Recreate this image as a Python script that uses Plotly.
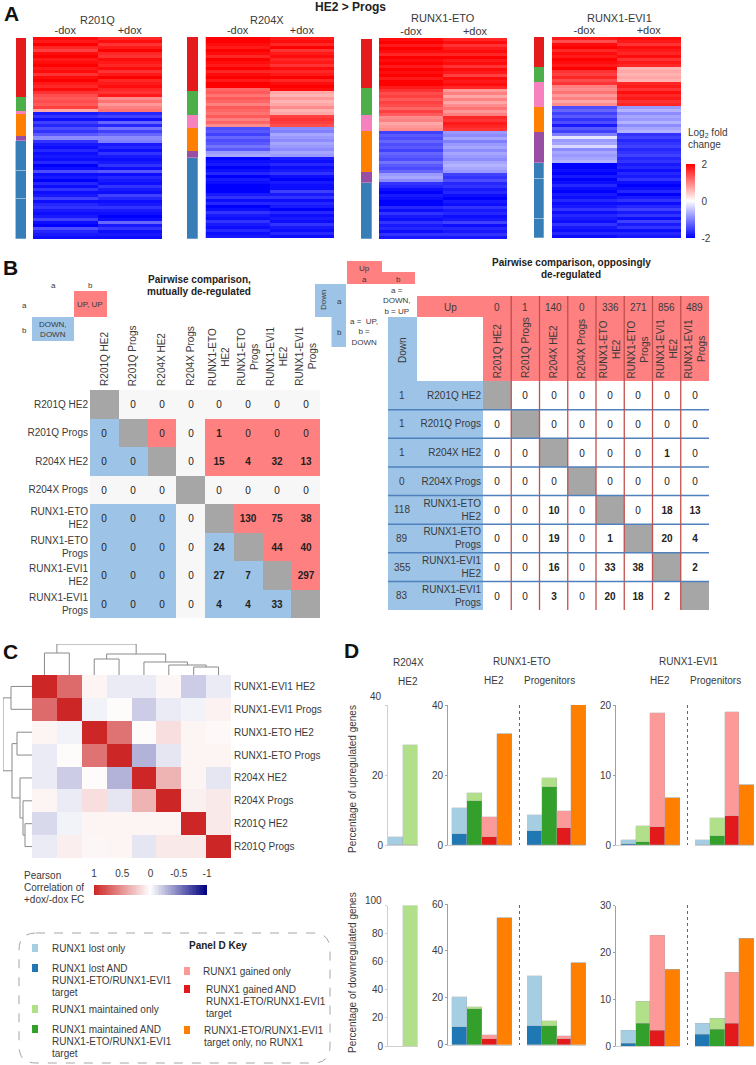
import numpy as np
import plotly.graph_objects as go

W, H = 756, 1065
FONT = "Liberation Sans"
TXT = "#3a3a3a"

# ---------- Panel A data ----------
R201Q_minus = [1.9,1.8,2,1.7,1.5,1.9,2,1.8,1.9,2,
 1.8,1.9,1.6,1.9,2,1.8,1.7,1.9,1.6,1.4,
 1.3,1.4,1.3,1.5,0.7,-1.8,-1.6,-1.9,-1.5,-1.7,
 -1.4,-1.6,-1.3,-0.9,-1.6,-1.8,-1.9,-1.7,-1.9,-1.8,
 -1.9,-1.7,-2,-1.9,-1.4,-1.9,-1.8,-2,-1.7,-1.9,
 -1.6,-1.9,-1.8,-1.5,-1.9,-1.7,-1.6,-1.8,-1.9,-1.8,
 -1.5,-1.9,-2,-1.4,-1.7,-1.8,-1.9]
R201Q_plus = [1.7,1.9,1.6,1.8,2,1.7,1.6,1.9,1.8,1.7,
 1.9,1.6,1.8,2,1.7,1.8,1.9,1.7,1.6,1.8,
 0.9,1.1,0.8,1.0,1.1,-1.7,-1.5,-1.9,-1.2,-1.7,
 -1.1,-1.5,-1.2,-0.9,-1.0,-1.8,-1.7,-1.9,-1.6,-1.8,
 -1.9,-1.8,-1.6,-1.9,-1.3,-1.9,-1.7,-1.8,-1.9,-1.6,
 -1.8,-1.9,-1.5,-1.7,-1.9,-1.8,-1.6,-1.8,-1.9,-2,
 -1.9,-1.2,-1.8,-1.6,-1.9,-1.8,-1.9]
R204X_minus = [2,2,1.9,1.8,2,1.9,1.7,2,1.9,1.8,
 2,1.7,1.9,2,1.8,2,2,1.2,1.3,1.1,
 1.3,1.2,1.0,1.3,1.2,1.1,1.3,1.0,1.2,0.9,
 -1.4,-1.3,-1.5,-1.2,-1.4,-1.3,-1.1,-1.3,-0.8,-0.7,
 -2,-1.9,-1.8,-2,-1.9,-1.7,-2,-1.8,-1.9,-2,
 -2,-2,-1.8,-1.6,-1.9,-1.7,-2,-1.9,-1.6,-1.8,
 -1.9,-1.6,-1.8,-1.9,-1.7,-1.9,-1.8]
R204X_plus = [1.8,1.9,1.7,2,1.6,1.8,1.9,1.7,1.8,1.6,
 1.9,1.7,1.8,2,1.7,1.9,2,1.9,0.7,0.6,
 0.8,0.6,0.7,0.9,0.6,0.7,1.5,1.6,1.5,1.4,
 -0.9,-1.0,-0.7,-0.8,-0.9,-0.7,-0.8,-0.9,-0.7,-0.8,
 -1.8,-1.9,-1.7,-1.9,-1.8,-1.6,-1.9,-2,-1.8,-1.9,
 -1.9,-1.5,-1.8,-1.6,-1.9,-1.7,-1.8,-2,-1.7,-1.9,
 -1.8,-1.9,-1.6,-1.8,-1.9,-1.7,-1.9]
ETO_minus = [1.9,2,1.8,2,1.9,1.7,2,1.9,2,1.8,
 2,1.9,2,1.8,2,2,1.8,1.6,1.4,1.5,
 1.3,1.5,1.4,1.2,1.5,1.3,0.9,1.0,0.7,0.8,
 0.9,-1.5,-1.3,-1.4,-1.2,-1.4,-1.3,-1.5,-1.2,-1.3,
 -1.4,-1.1,-1.3,-1.4,-1.2,-0.8,-0.7,-0.9,-1.6,-1.7,
 -1.9,-2,-1.8,-1.9,-2,-2,-1.7,-1.9,-1.6,-1.8,
 -1.9,-1.6,-1.8,-1.7,-1.9,-1.6,-1.8]
ETO_plus = [1.7,1.9,1.6,1.8,1.9,1.7,2,1.8,1.9,1.6,
 1.9,1.8,1.5,1.9,1.8,1.9,1.7,0.8,1.0,0.7,
 1.0,0.7,0.9,1.1,0.8,1.0,1.7,1.6,1.8,1.7,
 1.6,-0.8,-0.9,-0.7,-1.0,-0.8,-0.7,-0.9,-0.7,-0.8,
 -0.9,-0.7,-0.6,-0.7,-0.8,-1.5,-1.6,-1.4,-1.7,-1.6,
 -1.8,-1.7,-1.9,-2,-1.8,-1.9,-1.6,-1.8,-1.7,-1.9,
 -1.8,-1.5,-1.9,-1.7,-1.8,-1.6,-1.8]
EVI_minus = [1.8,1.4,1.9,2,1.7,1.9,1.8,2,1.9,1.8,
 2,1.6,1.5,1.7,1.4,1.6,1.0,0.9,1.1,0.8,
 1.0,0.7,0.9,-1.4,-1.2,-1.5,-1.3,-1.6,-1.4,-1.8,
 -1.3,-1.5,-1.0,-0.2,-0.8,-0.7,-0.3,-0.9,-0.7,-0.8,
 -0.7,-0.6,-2,-2,-1.9,-2,-1.8,-2,-1.9,-1.7,
 -1.9,-2,-1.8,-1.9,-1.7,-1.9,-1.8,-1.6,-1.9,-1.7,
 -1.8,-1.9,-1.6,-1.8,-1.9,-1.7,-1.9]
EVI_plus = [1.9,1.8,1.6,1.9,1.8,1.7,1.9,1.6,1.8,1.7,
 0.6,0.7,0.6,0.7,0.6,1.7,1.8,1.6,1.9,1.7,
 1.8,1.6,1.7,-0.8,-0.6,-0.9,-0.7,-0.8,-0.6,-0.9,
 -0.7,-0.6,-1.6,-1.5,-1.7,-1.6,-1.5,-1.7,-1.6,-1.5,
 -1.7,-1.6,-1.8,-1.7,-1.9,-1.7,-1.8,-1.6,-1.9,-2,
 -1.9,-1.7,-2,-1.8,-1.6,-1.9,-1.7,-1.5,-1.8,-1.6,
 -1.9,-1.5,-1.8,-1.6,-1.9,-1.7,-1.8]
MODULE_COLORS = ["#E41A1C", "#4DAF4A", "#F781BF", "#FF7F00", "#984EA3", "#377EB8", "#377EB8", "#377EB8"]
R201Q_modules = [59, 14, 3, 22, 5, 30, 28, 40]
R204X_modules = [54, 24, 13, 23, 7, 81]
ETO_modules = [49, 27, 16, 41, 11, 56]
EVI_modules = [30, 15, 25, 25, 31, 16, 40, 19]
DOX_LABELS = ["-dox", "+dox"]

# ---------- Panel B data ----------
SHORT = ["R201Q HE2", "R201Q Progs", "R204X HE2", "R204X Progs",
         "RUNX1-ETO<br>HE2", "RUNX1-ETO<br>Progs", "RUNX1-EVI1<br>HE2", "RUNX1-EVI1<br>Progs"]
mutual = [[None,0,0,0,0,0,0,0],
          [0,None,0,0,1,0,0,0],
          [0,0,None,0,15,4,32,13],
          [0,0,0,None,0,0,0,0],
          [0,0,0,0,None,130,75,38],
          [0,0,0,0,24,None,44,40],
          [0,0,0,0,27,7,None,297],
          [0,0,0,0,4,4,33,None]]
mutual_kind = [[3,0,0,0,0,0,0,0],
               [2,3,1,0,1,1,1,1],
               [2,2,3,0,1,1,1,1],
               [0,0,0,3,0,0,0,0],
               [2,2,2,0,3,1,1,1],
               [2,2,2,0,2,3,1,1],
               [2,2,2,0,2,2,3,1],
               [2,2,2,0,2,2,2,3]]
oppose = [[None,0,0,0,0,0,0,0],
          [0,None,0,0,0,0,0,0],
          [0,0,None,0,0,0,1,0],
          [0,0,0,None,0,0,0,0],
          [0,0,10,0,None,0,18,13],
          [0,0,19,0,1,None,20,4],
          [0,0,16,0,33,38,None,2],
          [0,0,3,0,20,18,2,None]]
up_totals = [0, 1, 140, 0, 336, 271, 856, 489]
down_totals = [1, 1, 1, 0, 118, 89, 355, 83]

# ---------- Panel C data ----------
C_LABELS = ["RUNX1-EVI1 HE2", "RUNX1-EVI1 Progs", "RUNX1-ETO HE2", "RUNX1-ETO Progs",
            "R204X HE2", "R204X Progs", "R201Q HE2", "R201Q Progs"]
corr = [[1,.68,.05,-.08,-.08,.04,-.2,-.08],
        [.68,1,-.05,.02,-.2,-.08,-.05,.06],
        [.05,-.05,1,.65,.02,.15,.05,.03],
        [-.08,.02,.65,1,-.3,-.1,.05,.05],
        [-.08,-.2,.02,-.3,1,.35,.05,-.1],
        [.05,-.08,.15,-.1,.35,1,.07,.1],
        [-.15,-.05,.05,.05,.05,.05,1,.1],
        [-.08,.08,.04,.05,-.1,.1,.1,1]]
top_tree = (((0, 1, 22), ((2, 3, 16), (4, (5, (6, 7, 8), 10), 13), 21), 31))
left_tree = (((0, 1, 21), ((2, 3, 15), (4, (5, (6, 7, 7), 9), 12), 20), 29))
corr_ticks = [1, 0.5, 0, -0.5, -1]

# ---------- Panel D data (dark = with target, total = top of the bar) ----------
DARK = ["#1F78B4", "#33A02C", "#E31A1C", "#FF7F00"]
LIGHT = ["#A6CEE3", "#B2DF8A", "#FB9A99", "#FF7F00"]
up_204_total = [2.2, 28.6]
down_204_total = [0, 100]
up_eto_he2_dark, up_eto_he2_total = [3.2, 12.5, 2.4, 31.8], [10.7, 14.8, 8, 31.8]
up_eto_pro_dark, up_eto_pro_total = [4.1, 16.6, 4.8, 39.9], [8.5, 19.2, 9.6, 39.9]
up_evi_he2_dark, up_evi_he2_total = [0.15, 0.5, 2.6, 6.7], [0.76, 2.7, 18.9, 6.7]
up_evi_pro_dark, up_evi_pro_total = [0.03, 1.24, 4.1, 8.6], [0.76, 3.85, 19, 8.6]
dn_eto_he2_dark, dn_eto_he2_total = [7.7, 15.3, 2.6, 54], [20.2, 16, 4.3, 54]
dn_eto_pro_dark, dn_eto_pro_total = [8, 8, 2.4, 34.9], [29.2, 10.1, 3.6, 34.9]
dn_evi_he2_dark, dn_evi_he2_total = [0.5, 4.8, 3.35, 16.25], [3.4, 9.55, 23.6, 16.25]
dn_evi_pro_dark, dn_evi_pro_total = [2.35, 3.6, 4.8, 22.9], [4.8, 5.9, 15.6, 22.9]

# ---------- helpers ----------
fig = go.Figure()
axis_n = [1]
shapes, annos, layout_axes = [], [], {}

def px(x): return x / W
def py(y): return 1 - y / H

def axes(x0, y0, x1, y1, xkw=None, ykw=None):
    axis_n[0] += 1
    n = axis_n[0]
    bx = dict(domain=[px(x0), px(x1)], anchor=f"y{n}", showgrid=False, zeroline=False,
              showline=False, ticks="", showticklabels=False,
              tickfont=dict(family=FONT, size=10, color=TXT))
    by = dict(domain=[py(y1), py(y0)], anchor=f"x{n}", showgrid=False, zeroline=False,
              showline=False, ticks="", showticklabels=False,
              tickfont=dict(family=FONT, size=10, color=TXT))
    bx.update(xkw or {})
    by.update(ykw or {})
    layout_axes[f"xaxis{n}"] = bx
    layout_axes[f"yaxis{n}"] = by
    return f"x{n}", f"y{n}"

def T(x, y, text, size=10, bold=False, xa="center", ya="middle", angle=0, color=TXT, align=None):
    annos.append(dict(xref="paper", yref="paper", x=px(x), y=py(y), showarrow=False,
                      text=f"<b>{text}</b>" if bold else text, textangle=angle,
                      xanchor=xa, yanchor=ya, align=align or xa,
                      font=dict(family=FONT, size=size, color=color)))

def rect(x0, y0, x1, y1, color, layer="below"):
    shapes.append(dict(type="rect", xref="paper", yref="paper", x0=px(x0), x1=px(x1),
                       y0=py(y0), y1=py(y1), fillcolor=color, line=dict(width=0), layer=layer))

def line(x0, y0, x1, y1, color, width=1, dash="solid", layer="above"):
    shapes.append(dict(type="line", xref="paper", yref="paper", x0=px(x0), x1=px(x1),
                       y0=py(y0), y1=py(y1), line=dict(color=color, width=width, dash=dash), layer=layer))

# ---------- Panel A ----------
RB = [[0, "#0000FF"], [0.5, "#FFFFFF"], [1, "#FF0000"]]

def panel_a(side, heat, minus, plus, modules, title, tx, ty, last=False):
    assert len(minus) == 67 and len(plus) == 67
    xa, ya = axes(side[0], side[1], side[2], side[3],
                  dict(range=[-0.5, 0.5]), dict(range=[sum(modules), 0]))
    for i, (v, c) in enumerate(zip(modules, MODULE_COLORS)):
        edge = dict(width=0.6, color="rgba(255,255,255,0.45)") if i >= 5 else dict(width=0)
        fig.add_trace(go.Bar(x=[0], y=[v], marker=dict(color=c, line=edge),
                             xaxis=xa, yaxis=ya, showlegend=False))
    xa, ya = axes(heat[0], heat[1], heat[2], heat[3],
                  dict(showticklabels=True, side="top", tickfont=dict(family=FONT, size=11, color=TXT),
                       ticklen=0),
                  dict(range=[66.5, -0.5]))
    if last:
        kw = dict(showscale=True, colorbar=dict(
            x=px(686), xanchor="left", y=py(164), yanchor="top", lenmode="pixels", len=74,
            thickness=9, outlinewidth=0, tickvals=[-2, 0, 2], ticktext=["-2", "0", "2"],
            ticks="outside", ticklen=5, tickcolor="rgba(0,0,0,0)", xpad=0, ypad=0,
            tickfont=dict(family=FONT, size=10, color=TXT)))
    else:
        kw = dict(showscale=False)
    z = [[a, b] for a, b in zip(minus, plus)]
    fig.add_trace(go.Heatmap(z=z, x=DOX_LABELS, y=list(range(67)), colorscale=RB, zmin=-2, zmax=2,
                             xaxis=xa, yaxis=ya, **kw))
    T(tx, ty, title, 11)

panel_a((15.5, 38, 26, 239), (33, 37, 162, 239), R201Q_minus, R201Q_plus, R201Q_modules, "R201Q", 97, 20)
panel_a((187, 37, 198, 239), (205.5, 37, 334, 238), R204X_minus, R204X_plus, R204X_modules, "R204X", 267, 20)
panel_a((361, 39, 372, 239), (379, 38, 507, 239), ETO_minus, ETO_plus, ETO_modules, "RUNX1-ETO", 443, 18)
panel_a((534, 37, 544, 238), (552, 37, 681, 238), EVI_minus, EVI_plus, EVI_modules, "RUNX1-EVI1", 619, 18, last=True)
T(686, 133, "Log<sub>2</sub> fold", 10, xa="left")
T(686, 145, "change", 10, xa="left")
T(350, 7.5, "HE2 &gt; Progs", 12, bold=True, color="#222")
T(2, 14, "A", 21, bold=True, xa="left", color="#111")

# ---------- Panel B ----------
T(1, 267, "B", 21, bold=True, xa="left", color="#111")
T(199, 279.5, "Pairwise comparison,", 10, bold=True, color="#222")
T(199, 291.5, "mutually de-regulated", 10, bold=True, color="#222")
T(571, 262, "Pairwise comparison, opposingly", 10, bold=True, color="#222")
T(571, 274, "de-regulated", 10, bold=True, color="#222")

# small keys
rect(74, 291, 107, 317, "#FF8080")
rect(32, 317, 74, 341, "#9DC3E6")
T(90, 304, "UP, UP", 8)
T(53, 329, "DOWN,<br>DOWN", 8)
for x_, y_, s_ in [(53, 285, "a"), (90, 285, "b"), (24, 305, "a"), (24, 330, "b")]:
    T(x_, y_, s_, 8)
rect(347, 261, 382, 272, "#FF8080")
rect(347, 272, 415, 284, "#FF8080")
rect(315, 284, 346, 317, "#9DC3E6")
rect(331.5, 317, 346, 347, "#9DC3E6")
T(364, 268, "Up", 8); T(364, 279, "a", 8); T(398, 279, "b", 8)
T(323, 300, "Down", 8, angle=-90); T(339, 301, "a", 8); T(339, 332, "b", 8)
T(397, 301, "a =<br>DOWN,<br>b = UP", 8)
T(364, 332, "a =  UP,<br>b =<br>DOWN", 8)

def fmt(v):
    if v is None: return ""
    return f"<b>{v}</b>" if v else "0"

KIND_SCALE = [[0, "#F7F7F7"], [0.25, "#F7F7F7"], [0.25, "#FF8080"], [0.5, "#FF8080"],
              [0.5, "#9DC3E6"], [0.75, "#9DC3E6"], [0.75, "#A6A6A6"], [1, "#A6A6A6"]]
idx = list(range(8))
xa, ya = axes(90, 390, 320, 618, dict(range=[-0.5, 7.5]),
              dict(range=[7.5, -0.5], showticklabels=True, tickvals=idx, ticktext=SHORT,
                   ticklen=0, ticklabelstandoff=1))
fig.add_trace(go.Heatmap(z=mutual_kind, x=idx, y=idx, colorscale=KIND_SCALE, zmin=0, zmax=3, showscale=False,
                         text=[[fmt(v) for v in r] for r in mutual], texttemplate="%{text}",
                         textfont=dict(family=FONT, size=10, color="#222"), xaxis=xa, yaxis=ya))
for i, s in enumerate(SHORT):
    T(90 + 28.75 * (i + 0.5) - 0.5, 388, s, 10, angle=-90, ya="bottom", align="center")

# opposing table
rect(417, 296, 709, 317, "#FF8080")
rect(483, 317, 709, 381, "#FF8080")
rect(388, 317, 417, 381, "#9DC3E6")
rect(388, 381, 483, 610, "#9DC3E6")
WHITE_GREY = [[0, "#FFFFFF"], [0.5, "#FFFFFF"], [0.5, "#A6A6A6"], [1, "#A6A6A6"]]
xa, ya = axes(483, 381, 709, 610, dict(range=[-0.5, 7.5]),
              dict(range=[7.5, -0.5], showticklabels=True, tickvals=idx, ticktext=SHORT,
                   ticklen=0, ticklabelstandoff=1))
fig.add_trace(go.Heatmap(z=[[1 if v is None else 0 for v in r] for r in oppose], x=idx, y=idx,
                         colorscale=WHITE_GREY, zmin=0, zmax=1, showscale=False,
                         text=[[fmt(v) for v in r] for r in oppose], texttemplate="%{text}",
                         textfont=dict(family=FONT, size=10, color="#222"), xaxis=xa, yaxis=ya))
cw, ch = 226 / 8, 229 / 8
for i in range(1, 8):
    line(483 + cw * i, 296, 483 + cw * i, 610, "#C0504D", 1.3)
    line(388, 381 + ch * i, 709, 381 + ch * i, "#4F81BD", 1.5)
for i, s in enumerate(SHORT):
    T(483 + cw * (i + 0.5), 380, s, 10, angle=-90, ya="bottom", align="center")
    T(483 + cw * (i + 0.5), 307, str(up_totals[i]), 10)
    T(402, 381 + ch * (i + 0.5), str(down_totals[i]), 10)
T(450, 307, "Up", 10)
T(402, 350, "Down", 10, angle=-90)

# ---------- Panel C ----------
T(1, 651, "C", 21, bold=True, xa="left", color="#111")
T(342, 650, "D", 21, bold=True, xa="left", color="#111")

xa, ya = axes(32, 675, 231, 858, dict(range=[-0.5, 7.5]),
              dict(range=[7.5, -0.5], side="right", showticklabels=True, tickvals=idx, ticktext=C_LABELS,
                   ticklen=0, ticklabelstandoff=2))
RWB = [[0, "#000080"], [0.5, "#FFFFFF"], [1, "#CD2626"]]
fig.add_trace(go.Heatmap(z=corr, x=idx, y=idx, colorscale=RWB, zmin=-1, zmax=1, showscale=False,
                         xaxis=xa, yaxis=ya))

def dendro(tree, xs, ys):
    def walk(node):
        if isinstance(node, int):
            return node, 0.0
        a, b, h = node
        pa, ha = walk(a)
        pb, hb = walk(b)
        xs.extend([pa, pa, pb, pb, None])
        ys.extend([ha, h, h, hb, None])
        return (pa + pb) / 2, h
    walk(tree)

xs, ys = [], []
dendro(top_tree, xs, ys)
xa, ya = axes(32, 644, 231, 675, dict(range=[-0.5, 7.5]), dict(range=[0, 31]))
fig.add_trace(go.Scatter(x=xs, y=ys, mode="lines", line=dict(color="#8a8a8a", width=1),
                         xaxis=xa, yaxis=ya, showlegend=False))
xs, ys = [], []
dendro(left_tree, xs, ys)
xa, ya = axes(3, 675, 32, 858, dict(range=[29, 0]), dict(range=[7.5, -0.5]))
fig.add_trace(go.Scatter(x=ys, y=xs, mode="lines", line=dict(color="#8a8a8a", width=1),
                         xaxis=xa, yaxis=ya, showlegend=False))

ramp = np.linspace(1, -1, 81)
xa, ya = axes(94, 885, 207, 895,
              dict(range=[1, -1], side="top", showticklabels=True, tickvals=corr_ticks,
                   ticktext=["1", "0.5", "0", "-0.5", "-1"], ticklen=0, ticklabelstandoff=5),
              dict(range=[-0.5, 0.5]))
fig.add_trace(go.Heatmap(z=[ramp.tolist()], x=ramp.tolist(), y=[0], colorscale=RWB, zmin=-1, zmax=1,
                         showscale=False, xaxis=xa, yaxis=ya))
T(22, 875, "Pearson", 10, xa="left")
T(22, 887, "Correlation of", 10, xa="left")
T(22, 899, "+dox/-dox FC", 10, xa="left")

# ---------- key ----------
x0, y0, x1, y1, r = 19, 933, 330, 1063, 17
path = (f"M {px(x0 + r)} {py(y0)} L {px(x1 - r)} {py(y0)} Q {px(x1)} {py(y0)} {px(x1)} {py(y0 + r)} "
        f"L {px(x1)} {py(y1 - r)} Q {px(x1)} {py(y1)} {px(x1 - r)} {py(y1)} "
        f"L {px(x0 + r)} {py(y1)} Q {px(x0)} {py(y1)} {px(x0)} {py(y1 - r)} "
        f"L {px(x0)} {py(y0 + r)} Q {px(x0)} {py(y0)} {px(x0 + r)} {py(y0)} Z")
shapes.append(dict(type="path", xref="paper", yref="paper", path=path,
                   line=dict(color="#A6A6A6", width=1, dash="dash"), layer="below"))
T(218, 945, "Panel D Key", 10, bold=True, color="#222")
left_key = [(948, LIGHT[0], ["RUNX1 lost only"], 50, 32),
            (968, DARK[0], ["RUNX1 lost AND", "RUNX1-ETO/RUNX1-EVI1", "target"], 50, 32),
            (1009, LIGHT[1], ["RUNX1 maintained only"], 50, 32),
            (1029, DARK[1], ["RUNX1 maintained AND", "RUNX1-ETO/RUNX1-EVI1", "target"], 50, 32),
            (971, LIGHT[2], ["RUNX1 gained only"], 201, 184),
            (989, DARK[2], ["RUNX1 gained AND", "RUNX1-ETO/RUNX1-EVI1", "target"], 204, 184),
            (1030, DARK[3], ["RUNX1-ETO/RUNX1-EVI1", "target only, no RUNX1"], 202, 184)]
for y_, c_, lines_, tx_, sx_ in left_key:
    rect(sx_, y_ - 4, sx_ + 6, y_ + 4, c_)
    for k, s in enumerate(lines_):
        T(tx_, y_ + 12 * k, s, 10, xa="left")

# ---------- Panel D ----------
T(408, 662, "R204X", 10); T(408, 681, "HE2", 10)
T(522, 661, "RUNX1-ETO", 10); T(494, 680, "HE2", 10); T(549, 680, "Progenitors", 10)
T(688, 661, "RUNX1-EVI1", 10); T(660, 680, "HE2", 10); T(715, 680, "Progenitors", 10)
T(352, 779, "Percentage of upregulated genes", 10, angle=-90)
T(352, 973, "Percentage of downregulated genes", 10, angle=-90)

def ykw(ymax, ticks, col="#A0A0A0", labels=None):
    return dict(range=[0, ymax], showticklabels=True, tickvals=ticks,
                ticktext=labels or [str(t) for t in ticks], ticks="outside", ticklen=2,
                tickcolor=col, showline=True, linecolor=col, linewidth=1)

def bars(xa, ya, dark, total):
    light = [round(t - d, 3) for t, d in zip(total, dark)]
    edge = dict(color="rgba(170,170,170,0.6)", width=0.5)
    fig.add_trace(go.Bar(x=[0, 1, 2, 3], y=dark, marker=dict(color=DARK, line=edge), xaxis=xa, yaxis=ya, showlegend=False))
    fig.add_trace(go.Bar(x=[0, 1, 2, 3], y=light, marker=dict(color=LIGHT, line=edge), xaxis=xa, yaxis=ya, showlegend=False))

BOT = dict(showline=True, linecolor="#D0D0D0", linewidth=1)

def group(top, bottom, x_axis, x0, x1, x2, x3, ymax, ticks, he_d, he_t, pr_d, pr_t):
    left = -0.5 - (x0 - x_axis) / 15
    xa, ya = axes(x_axis, top, x1, bottom, dict(range=[left, 3.5], **BOT), ykw(ymax, ticks))
    bars(xa, ya, he_d, he_t)
    xa, ya = axes(x2, top, x3, bottom, dict(range=[-0.5, 3.5], **BOT), dict(range=[0, ymax]))
    bars(xa, ya, pr_d, pr_t)

# R204X (its top tick labels sit above their ticks in the reference)
xa, ya = axes(388, 705, 417.5, 845, dict(range=[-0.5, 1.5], **BOT),
              ykw(40, [0, 20, 40], "#D0D0D0", ["0", "20", " "]))
fig.add_trace(go.Bar(x=[0, 1], y=up_204_total, marker=dict(color=LIGHT[:2], line=dict(color="rgba(170,170,170,0.6)", width=0.5)),
                     xaxis=xa, yaxis=ya, showlegend=False))
xa, ya = axes(388, 905.5, 417.5, 1046, dict(range=[-0.5, 1.5], **BOT),
              ykw(100, [0, 20, 40, 60, 80, 100], "#D0D0D0", ["0", "20", "40", "60", "80", " "]))
fig.add_trace(go.Bar(x=[0, 1], y=down_204_total, marker=dict(color=LIGHT[:2], line=dict(color="rgba(170,170,170,0.6)", width=0.5)),
                     xaxis=xa, yaxis=ya, showlegend=False))
T(384, 696, "40", 10, xa="right")
T(384, 900, "100", 10, xa="right")

group(705, 845, 448, 452, 512, 527, 586, 40, [0, 20, 40], up_eto_he2_dark, up_eto_he2_total, up_eto_pro_dark, up_eto_pro_total)
group(904, 1044.7, 448, 452, 512, 527, 586, 60, [0, 20, 40, 60], dn_eto_he2_dark, dn_eto_he2_total, dn_eto_pro_dark, dn_eto_pro_total)
group(705, 845, 616, 621, 680, 695, 754, 20, [0, 10, 20], up_evi_he2_dark, up_evi_he2_total, up_evi_pro_dark, up_evi_pro_total)
group(905.5, 1046, 616, 621, 680, 695, 754, 30, [0, 10, 20, 30], dn_evi_he2_dark, dn_evi_he2_total, dn_evi_pro_dark, dn_evi_pro_total)
for x_ in (519.5, 687.5):
    line(x_, 705, x_, 845, "#666666", 1, "dot")
    line(x_, 905, x_, 1045, "#666666", 1, "dot")

fig.update_layout(width=W, height=H, margin=dict(l=0, r=0, t=0, b=0, autoexpand=False), autosize=False,
                  paper_bgcolor="white", plot_bgcolor="rgba(0,0,0,0)",
                  barmode="stack", bargap=0, showlegend=False,
                  font=dict(family=FONT, size=10, color=TXT),
                  shapes=shapes, annotations=annos, **layout_axes)
fig.write_html("out.html", config=dict(displayModeBar=False),
               post_script="document.body.style.margin='0';")
